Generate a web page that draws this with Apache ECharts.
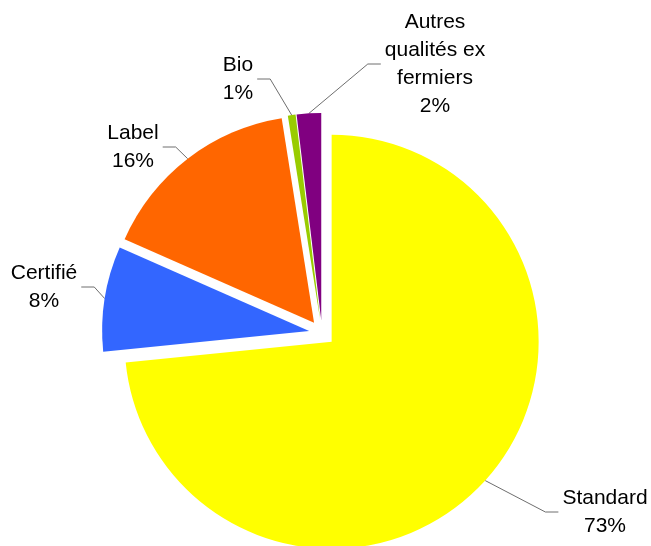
<!DOCTYPE html>
<html><head><meta charset="utf-8">
<script src="https://cdn.jsdelivr.net/npm/echarts@6/dist/echarts.min.js"></script>
<style>html,body{margin:0;padding:0;background:#fff}#c{width:651px;height:546px}</style>
</head><body><div id="c"></div>
<script>
// ---- data (shares in %; labels show rounded values) ----
const categories = ['Standard', 'Certifié', 'Label', 'Bio', 'Autres\nqualités ex\nfermiers'];
const values = [73.4, 8.2, 15.9, 0.6, 1.9];

// ---- styling / layout ----
const colors = ['#FFFF00', '#3366FF', '#FF6600', '#99CC00', '#800080'];
// label block centre and which side the leader line comes from
const labelPos = [[605, 512, 'L'], [44, 287, 'R'], [133, 147, 'R'], [238, 79, 'R'], [435, 64, 'L']];
const C = [322, 333], R = 207, OFF = 13;

const chart = echarts.init(document.getElementById('c'), null, {renderer: 'canvas'});
const total = values.reduce((a, b) => a + b, 0);
let cum = 0;
const series = values.map((v, i) => {
  const mid = (cum + v / 2) / total * 2 * Math.PI; cum += v;
  const cx = C[0] + OFF * Math.sin(mid), cy = C[1] - OFF * Math.cos(mid);
  const lp = labelPos[i];
  return {
    type: 'pie', center: [cx, cy], radius: R, startAngle: 90, clockwise: true,
    silent: true, animation: false, avoidLabelOverlap: false,
    emphasis: {disabled: true},
    label: {
      show: true, position: 'outside',
      formatter: p => p.name + '\n' + Math.round(p.percent) + '%',
      fontFamily: 'Liberation Sans, Arial, sans-serif', fontSize: 21, lineHeight: 28,
      color: '#000', align: 'center'
    },
    labelLine: {show: true, length: 10, length2: 10, lineStyle: {color: '#6e6e6e', width: 1}},
    labelLayout: function (p) {
      if (p.dataIndex !== i) return {};
      const w = p.labelRect.width;
      let end, elbow;
      if (lp[2] === 'L') {
        const left = lp[0] - w / 2;
        end = [left - 4, lp[1]]; elbow = [left - 17, lp[1]];
      } else {
        const right = lp[0] + w / 2;
        end = [right + 4, lp[1]]; elbow = [right + 17, lp[1]];
      }
      let start = p.labelLinePoints && p.labelLinePoints[0];
      if (!start) start = [cx + R * Math.sin(mid), cy - R * Math.cos(mid)];
      return {x: lp[0], y: lp[1], align: 'center', verticalAlign: 'middle',
              labelLinePoints: [start, elbow, end]};
    },
    data: categories.map((n, j) => ({
      name: n, value: values[j],
      itemStyle: {color: j === i ? colors[j] : 'rgba(0,0,0,0)'},
      label: {show: j === i}, labelLine: {show: j === i}
    }))
  };
});

chart.setOption({backgroundColor: '#fff', animation: false, series: series});
</script></body></html>
